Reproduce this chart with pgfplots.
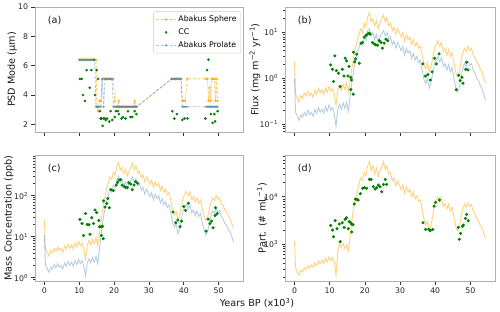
\documentclass[border=0pt]{standalone}
\usepackage{fontspec}
\setmainfont{DejaVu Sans}
\usepackage{pgfplots}
\pgfplotsset{compat=1.18}
\usepackage{pgfplotstable}

\definecolor{sph}{HTML}{FFA500}
\definecolor{pro}{HTML}{4682B4}
\definecolor{cc}{HTML}{008000}
\definecolor{frame}{HTML}{B0B0B0}

\pgfplotstableread{
x bS bP cS cP dS
0.0 2.3 1.0 26 11 1150
0.3 0.45 0.18 5.0 2.0 320
0.8 0.38 0.15 4.2 1.7 250
1.3 0.30 0.12 3.4 1.35 220
1.8 0.42 0.16 4.6 1.8 280
2.3 0.36 0.14 4.0 1.6 260
2.8 0.48 0.18 5.2 2.1 320
3.3 0.40 0.15 4.4 1.75 290
3.8 0.52 0.20 5.6 2.2 350
4.3 0.42 0.16 4.6 1.8 310
4.8 0.47 0.18 5.2 2.0 360
5.3 0.38 0.15 4.2 1.65 320
5.8 0.55 0.21 6.0 2.3 400
6.3 0.45 0.17 5.0 1.9 350
6.8 0.60 0.23 6.6 2.5 440
7.3 0.48 0.18 5.3 2.0 380
7.8 0.56 0.21 6.3 2.4 460
8.3 0.44 0.17 5.0 1.9 390
8.8 0.62 0.24 7.0 2.6 500
9.3 0.50 0.19 5.7 2.1 420
9.8 0.66 0.26 7.6 2.8 540
10.3 0.52 0.20 6.0 2.2 440
10.8 0.60 0.23 7.0 2.6 520
11.3 0.45 0.17 5.2 1.9 420
11.8 0.26 0.09 2.8 1.1 220
12.3 0.55 0.21 6.3 2.3 700
12.8 0.70 0.27 8.0 2.9 1000
13.3 0.55 0.21 6.3 2.3 850
13.8 0.75 0.29 8.6 3.1 1050
14.3 0.58 0.22 6.8 2.4 800
14.8 0.80 0.30 9.5 3.3 950
15.3 0.50 0.19 6.0 2.2 720
15.8 0.90 0.40 12 5 1400
16.3 1.6 0.8 25 12 3000
16.8 2.8 1.5 50 25 6000
17.3 4.5 2.4 90 45 9000
17.8 6.5 3.4 140 70 12000
18.3 9.0 4.6 200 100 18000
18.8 12 6 290 145 25000
19.3 10 5.2 250 125 22000
19.8 16 8 380 180 32000
20.3 13 6.8 320 160 28000
20.8 22 11 520 250 45000
21.3 27 12 650 300 55000
21.8 17 8.5 420 210 36000
22.3 20 10 500 240 45000
22.8 14 7 350 175 30000
23.3 18 9 450 220 40000
23.8 12 6 300 150 27000
24.3 16 8 400 200 35000
24.8 20 9.5 500 240 42000
25.3 24 11 620 290 55000
25.8 17 8.5 430 210 38000
26.3 21 10 540 260 45000
26.8 14 7 350 175 30000
27.3 16 8 400 200 32000
27.8 11 5.5 270 135 22000
28.3 13 6.5 320 160 25000
28.8 9 4.5 220 110 17000
29.3 12 6 290 145 22000
29.8 10 5 240 120 18000
30.3 8 4 190 95 14000
30.8 10 5 240 120 18000
31.3 6.5 3.2 160 80 12000
31.8 9 4.5 220 110 16000
32.3 7 3.5 170 85 12500
32.8 8 4 200 100 14500
33.3 5.5 2.7 135 67 10000
33.8 7 3.5 170 85 12500
34.3 5 2.5 120 60 9000
34.8 6 3 145 72 10500
35.3 4.5 2.2 105 52 8000
35.8 5 2.5 120 60 8500
36.3 3.2 1.5 75 37 5500
36.8 2.0 0.95 45 22 3300
37.3 1.6 0.75 34 17 2500
37.8 2.2 1.0 42 21 3000
38.3 1.4 0.6 26 12 1900
38.8 1.8 0.8 33 15 2400
39.3 2.8 1.3 55 26 4000
39.8 4.5 2.1 90 43 7000
40.3 5.5 2.6 110 53 8500
40.8 6.5 3.0 130 62 10000
41.3 5.0 2.3 100 48 8000
41.8 6.0 2.8 125 60 9500
42.3 3.8 1.8 80 38 6200
42.8 4.5 2.1 95 45 7200
43.3 3.2 1.5 70 33 5500
43.8 4.2 2.0 90 43 7000
44.3 3.0 1.4 65 31 5000
44.8 3.6 1.7 78 37 6000
45.3 2.2 1.0 48 22 3800
45.8 1.4 0.65 32 15 2500
46.3 1.1 0.5 25 11 1900
46.8 1.3 0.6 29 13 2200
47.3 2.2 1.0 45 21 3500
47.8 3.5 1.6 70 33 5500
48.3 4.5 2.1 90 43 7000
48.8 3.8 1.8 78 37 6000
49.3 5.0 2.4 100 48 7500
49.8 4.0 1.9 82 39 6200
50.3 4.5 2.1 90 43 6800
50.8 3.2 1.5 65 31 5000
51.3 2.8 1.3 57 27 4300
51.8 2.2 1.0 45 21 3500
52.3 2.0 0.9 40 19 3000
52.8 1.6 0.7 32 15 2500
53.3 1.4 0.6 28 13 2200
53.8 1.0 0.45 21 10 1700
54.3 0.78 0.33 16 7.5 1300
}\series

\pgfplotstableread{
x s p
10.0 6.4 6.4
10.4 6.4 6.4
10.8 6.4 6.4
11.2 6.4 6.4
11.6 6.4 6.4
12.0 6.4 6.4
12.4 6.4 6.4
12.8 6.4 6.4
13.2 6.4 6.4
13.6 6.4 6.4
14.0 6.4 6.4
14.4 6.4 6.4
14.8 6.4 3.2
15.1 3.2 3.2
15.4 2.9 3.2
15.8 3.6 3.2
16.2 3.6 3.2
16.6 5.1 5.1
17.0 5.1 3.2
17.4 5.1 5.1
17.8 5.1 5.1
18.2 5.1 5.1
18.6 5.1 5.1
19.0 5.1 5.1
19.4 5.1 5.1
19.8 5.1 3.2
20.2 3.6 3.2
20.6 3.2 3.2
21.0 3.2 3.2
21.3 3.6 3.2
21.6 3.2 3.2
22.0 3.2 3.2
22.4 3.2 3.2
22.8 3.2 3.2
23.2 3.2 3.2
23.6 3.2 3.2
24.0 3.2 3.2
24.4 3.2 3.2
24.8 3.2 3.2
25.2 3.2 3.2
25.6 3.2 3.2
25.9 3.6 3.2
26.2 3.2 3.2
26.5 3.2 3.2
36.5 5.1 5.1
36.8 5.1 5.1
37.2 5.1 5.1
37.6 5.1 5.1
38.0 5.1 5.1
38.4 5.1 5.1
38.8 5.1 5.1
39.2 5.1 5.1
39.6 3.6 3.2
40.0 3.6 3.2
40.4 3.6 3.2
41.0 5.1 3.2
46.4 5.1 3.2
46.8 5.1 3.2
47.1 3.6 3.2
47.4 4.5 3.2
47.7 3.6 3.2
48.0 5.1 3.2
48.4 5.1 3.2
48.8 5.1 3.2
49.1 3.6 3.2
49.4 5.1 3.2
49.7 3.6 3.2
}\psd

\pgfplotstableread{
x y
10.2 5.1
10.7 5.1
11.1 4.0
11.6 3.6
12.1 5.7
13.0 4.5
13.5 5.7
14.2 6.4
14.5 4.0
15.0 5.7
15.4 5.1
15.9 2.9
16.1 2.4
16.4 2.4
16.7 1.9
16.9 2.4
17.3 2.4
17.6 2.3
18.0 2.4
18.6 2.2
19.0 2.9
19.5 2.3
20.2 2.5
20.5 2.9
21.1 2.9
21.4 2.7
22.1 2.4
22.6 2.5
23.3 2.4
24.0 2.9
24.7 2.5
25.2 2.5
25.9 2.9
26.4 2.7
36.7 2.9
37.3 2.4
38.0 2.7
39.6 2.3
40.2 2.4
41.1 2.4
46.2 2.4
46.7 5.7
47.1 6.4
47.8 2.7
48.3 2.1
48.8 2.7
49.0 2.2
49.7 2.9
}\ccA

\pgfplotstableread{
x y
10.3 1.96
10.8 1.57
11.5 3.08
11.9 1.47
12.5 1.29
11.1 0.85
13.0 0.66
13.6 1.57
14.1 1.12
14.4 2.74
14.8 2.40
15.2 1.12
15.5 1.8
16.0 1.05
16.2 0.92
16.0 0.57
16.7 0.45
16.8 3.7
17.1 2.28
17.4 2.65
17.7 3.36
18.4 2.13
18.9 5.84
19.3 6.04
19.8 7.9
20.3 8.6
20.8 9.2
21.2 9.7
21.5 9.2
22.2 6.04
22.7 5.56
23.1 5.37
23.6 5.28
24.1 6.68
24.6 6.04
25.0 4.54
25.5 5.84
26.0 7.15
26.5 6.58
36.5 2.06
37.2 1.11
37.9 1.2
38.6 0.92
39.1 1.38
39.8 2.74
40.3 2.06
41.1 3.41
46.0 0.56
46.7 1.16
47.1 0.89
47.6 1.05
47.9 0.78
48.7 1.57
48.9 2.24
49.3 1.52
}\ccB

\pgfplotstableread{
x y
10.2 26.5
10.8 21
11.8 37
11.2 10.7
12.3 20
12.8 19.6
13.1 11.5
13.6 29
14.1 21
14.5 45
15.0 38.7
15.6 25
15.8 17.5
16.3 17.5
16.4 10.7
16.7 18
16.9 8.9
17.0 75
17.4 53
17.9 65
18.2 86
18.6 51
19.1 141
19.8 133
20.6 183
21.0 213
21.4 244
21.9 248
22.3 183
22.9 167
23.3 161
23.8 158
24.2 209
24.8 194
25.2 141
25.7 183
26.2 222
26.7 202
36.9 40
37.7 22
38.3 25.5
38.9 17.5
39.4 24
40.0 55
40.5 44
41.3 66
46.4 13.7
47.0 27
47.5 20.8
48.0 24
48.4 16.5
49.0 33
49.1 51
49.6 36.7
}\ccC

\pgfplotstableread{
x y
10.3 2480
10.8 1980
11.55 3110
11.07 1430
12.1 2110
12.7 2650
13.0 1120
13.6 2820
14.1 2250
14.4 3320
14.8 3600
15.3 2110
15.55 2970
16.0 2820
16.2 2650
16.3 1800
16.6 2560
17.0 7000
17.3 8930
17.7 8800
18.1 8500
18.7 11600
19.4 15000
19.85 15500
20.5 15000
21.3 23200
21.8 23200
22.4 16300
22.9 14500
23.4 15500
23.8 17600
24.3 16300
24.8 12700
25.3 18200
25.8 23200
26.2 18200
36.5 2820
37.3 2040
38.2 2040
38.6 1910
39.3 2040
39.7 6350
40.1 7590
41.2 8500
46.6 2250
46.85 1260
47.2 1680
47.7 2360
48.0 2520
48.6 3480
48.95 4240
49.4 3110
}\ccD

\pgfplotsset{
  log number format basis/.code 2 args={\pgfmathtruncatemacro\ex{#2}\ifnum\ex<0 \pgfmathtruncatemacro\ab{abs(\ex)}#1\textsuperscript{−\ab}\else#1\textsuperscript{\ex}\fi},
}
\pgfplotsset{
  base/.style={
    scale only axis, anchor=south west,
    xmin=-2.7, xmax=57,
    xtick={0,10,20,30,40,50},
    tick pos=left, tick align=outside,
    axis line style={draw=frame, line width=0.8bp},
    major tick length=3.5bp, minor tick length=2bp,
    tick style={black!80, line width=0.6bp},
    tick label style={font=\fontsize{7.8}{9}\selectfont, text=black!85},
    label style={font=\fontsize{9.7}{11}\selectfont, text=black!90},
    /pgf/number format/assume math mode=true,
  },
  sp/.style={sph, opacity=0.5, line width=0.9bp, no markers},
  pp/.style={pro, opacity=0.4, line width=0.9bp, no markers},
  ccs/.style={only marks, mark=*, mark size=1.35bp, draw=cc, fill=cc},
  aS/.style={sph, opacity=0.6, line width=0.8bp, dash pattern=on 3bp off 1.5bp, mark=*, mark size=0.9bp, mark options={solid}},
  aP/.style={pro, opacity=0.45, line width=0.8bp, dash pattern=on 3bp off 1.5bp, mark=*, mark size=0.9bp, mark options={solid}},
}
\tikzset{plab/.style={anchor=west, font=\fontsize{9.7}{11}\selectfont, text=black!90}}

\begin{document}
\begin{tikzpicture}
\path[use as bounding box] (0,0) rectangle (500bp,-312bp);

% (a)
\begin{axis}[base, at={(35bp,-132bp)}, width=208bp, height=125bp,
  ymin=1.48, ymax=10, ytick={2,4,6,8,10}, xticklabels={},
  ylabel={PSD Mode (µm)},
  ylabel style={at={(axis description cs:-0.11,0.5)}, anchor=center},
  legend style={at={(0.99,0.965)}, anchor=north east, font=\fontsize{7.8}{9}\selectfont,
    draw=black!20, rounded corners=2bp, fill=white, fill opacity=0.8, text opacity=1,
    inner sep=2.2bp, row sep=1.6bp},
  legend image code/.code={\draw[mark repeat=2,mark phase=2] plot coordinates {(0bp,0bp) (10bp,0bp) (20bp,0bp)};},
  legend cell align=left]
\addplot[aS] table[x=x,y=s] {\psd};
\addlegendentry{Abakus Sphere}
\addplot[ccs, mark size=1.1bp, legend image code/.code={\draw plot coordinates {(10bp,0bp)};}] table[x=x,y=y] {\ccA};
\addlegendentry{CC}
\addplot[aP] table[x=x,y=p] {\psd};
\addlegendentry{Abakus Prolate}
\node[plab] at (rel axis cs:0.045,0.89) {(a)};
\end{axis}

% (b)
\begin{axis}[base, at={(285bp,-132bp)}, width=210bp, height=125bp,
  ymode=log, ymin=0.067, ymax=36, xticklabels={},
  ylabel={Flux (mg m\textsuperscript{−2} yr\textsuperscript{−1})},
  ylabel style={at={(axis description cs:-0.143,0.5)}, anchor=center}]
\addplot[sp] table[x=x,y=bS] {\series};
\addplot[pp] table[x=x,y=bP] {\series};
\addplot[ccs] table[x=x,y=y] {\ccB};
\node[plab] at (rel axis cs:0.045,0.89) {(b)};
\end{axis}

% (c)
\begin{axis}[base, at={(35bp,-281bp)}, width=208bp, height=126bp,
  ymode=log, ymin=0.83, ymax=990,
  ylabel={Mass Concentration (ppb)},
  ylabel style={at={(axis description cs:-0.125,0.5)}, anchor=center}]
\addplot[sp] table[x=x,y=cS] {\series};
\addplot[pp] table[x=x,y=cP] {\series};
\addplot[ccs] table[x=x,y=y] {\ccC};
\node[plab] at (rel axis cs:0.045,0.89) {(c)};
\end{axis}

% (d)
\begin{axis}[base, at={(285bp,-281bp)}, width=210bp, height=126bp,
  ymode=log, ymin=166, ymax=76000,
  ylabel={Part. (\# mL\textsuperscript{−1})},
  ylabel style={at={(axis description cs:-0.11,0.5)}, anchor=center}]
\addplot[sp] table[x=x,y=dS] {\series};
\addplot[ccs] table[x=x,y=y] {\ccD};
\node[plab] at (rel axis cs:0.045,0.89) {(d)};
\end{axis}

\node[font=\fontsize{9.7}{11}\selectfont, text=black!90] at (257bp,-303bp) {Years BP (x10\textsuperscript{3})};
\end{tikzpicture}
\end{document}
